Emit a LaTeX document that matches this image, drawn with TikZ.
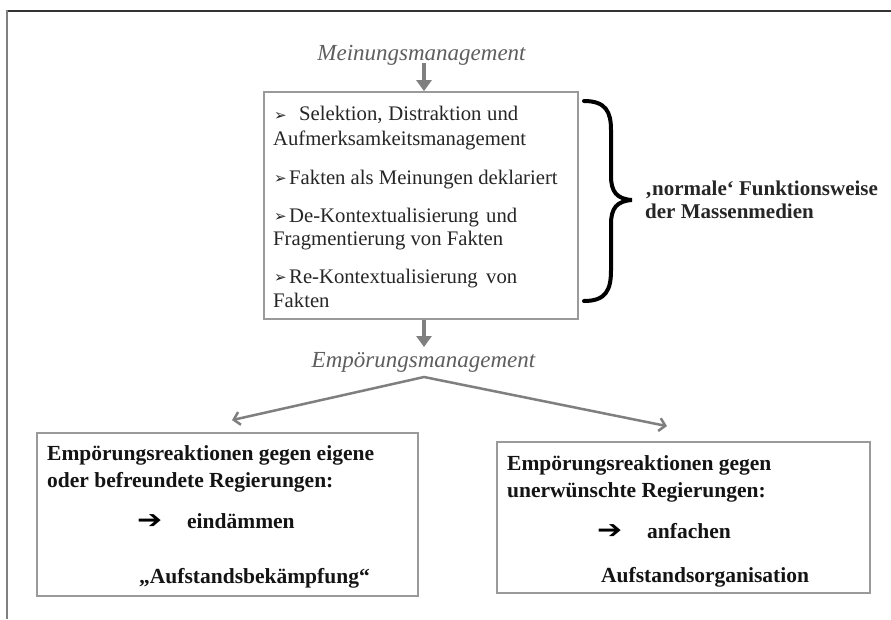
\documentclass[tikz,border=0pt]{standalone}
\usepackage{fontspec}
\setmainfont{Liberation Serif}
\newfontfamily\dvfont{DejaVu Sans}
\usetikzlibrary{arrows.meta,calc}
\definecolor{arrgray}{HTML}{7F7F7F}
\definecolor{boxgray}{HTML}{9A9A9A}
\definecolor{labgray}{HTML}{5E5E5E}
\newcommand\bulmark{\raisebox{0.5pt}{\dvfont\bfseries\fontsize{15}{15}\selectfont ➢}}
\newcommand\fatarrow{\scalebox{1.25}[1.05]{\dvfont\bfseries\fontsize{24}{24}\selectfont ➔}}
\begin{document}
\begin{tikzpicture}[x=1pt,y=-1pt,
  boxtext/.style={anchor=base west, inner sep=0pt, font=\fontsize{20.7}{24}\selectfont, text=black!85},
  btext/.style={anchor=base west, inner sep=0pt, font=\fontsize{21.5}{26}\selectfont\bfseries, text=black!92},
  sidetext/.style={anchor=base west, inner sep=0pt, font=\fontsize{21}{26}\selectfont\bfseries, text=black!85},
  glyph/.style={anchor=base west, inner sep=0pt},
  lab/.style={anchor=base, inner sep=0pt, font=\fontsize{23}{27}\selectfont\itshape, text=labgray},
  panel/.style={draw=boxgray, line width=1.8pt, inner sep=0pt, fill=white},
  bigarrow/.style={draw=arrgray, line width=4.5pt, -{Triangle[width=15pt,length=11pt]}},
  splitarrow/.style={draw=arrgray, line width=2.5pt, line join=miter, {Straight Barb[length=6pt,width=13pt]}-{Straight Barb[length=6pt,width=13pt]}},
  bracestyle/.style={draw=black, line width=4pt, line cap=round},
  frametop/.style={draw=black!80, line width=2pt},
  frameleft/.style={draw=black!50, line width=2.5pt}
]
\useasboundingbox (0,0) rectangle (891,619);
\fill[white] (0,0) rectangle (891,619);

% outer frame lines
\draw[frametop] (6,11) -- (891,11);
\draw[frameleft] (7,10) -- (7,619);

% main box
\node[panel, minimum width=314pt, minimum height=227pt] (box) at (421,205.5) {};
\node[boxtext] (s1) at (274,120.5) {\makebox[25pt][l]{\bulmark}\makebox[219pt][s]{Selektion, Distraktion und}};
\node[boxtext] (s2) at (273,145) {Aufmerksamkeitsmanagement};
\node[boxtext] (s3) at (274,184) {\makebox[15pt][l]{\bulmark}Fakten als Meinungen deklariert};
\node[boxtext] (s4) at (274,222) {\makebox[15pt][l]{\bulmark}\makebox[228pt][s]{De-Kontextualisierung und}};
\node[boxtext] (s5) at (273,245) {Fragmentierung von Fakten};
\node[boxtext] (s6) at (274,283) {\makebox[15pt][l]{\bulmark}\makebox[228pt][s]{Re-Kontextualisierung von}};
\node[boxtext] (s7) at (273,307) {Fakten};

% brace
\draw[bracestyle] (584,101) .. controls (606,101) and (611,112) .. (611,130) -- (611,176)
  .. controls (611,192) and (617,199) .. (632,200)
  .. controls (617,201) and (611,208) .. (611,224) -- (611,270)
  .. controls (611,290) and (606,301) .. (584,301);
\node[sidetext] (n1) at (645,195) {‚normale‘ Funktionsweise};
\node[sidetext] (n2) at (645,218) {der Massenmedien};

% labels
\node[lab] (meinung) at (421.5,60) {Meinungsmanagement};
\node[lab] (emp) at (423.5,367) {Empörungsmanagement};

% bottom boxes
\node[panel, minimum width=381pt, minimum height=163pt] (lbox) at (227.5,514.5) {};
\node[btext] (e1) at (47,460) {Empörungsreaktionen gegen eigene};
\node[btext] (e2) at (47,487) {oder befreundete Regierungen:};
\node[glyph] (ea) at (137,528) {\fatarrow};
\node[btext] (ew) at (187,528) {eindämmen};
\node[btext] (e3) at (139,583) {„Aufstandsbekämpfung“};

\node[panel, minimum width=373pt, minimum height=151pt] (rbox) at (683.5,517.5) {};
\node[btext] (f1) at (507,470) {Empörungsreaktionen gegen};
\node[btext] (f2) at (507,497) {unerwünschte Regierungen:};
\node[glyph] (fa) at (597,538) {\fatarrow};
\node[btext] (fw) at (647,538) {anfachen};
\node[btext] (f3) at (601,582) {Aufstandsorganisation};

% arrows
\coordinate (a1) at (424,63);
\draw[bigarrow] (a1) -- (a1 |- box.north);
\coordinate (a2) at (424,347);
\draw[bigarrow] (a2 |- box.south) -- (a2);
\coordinate (apex) at (424,377);
\draw[splitarrow] ($(lbox.north)+(4.5,-12)$) -- (apex) -- ($(rbox.north)+(-16.5,-15)$);
\end{tikzpicture}
\end{document}
